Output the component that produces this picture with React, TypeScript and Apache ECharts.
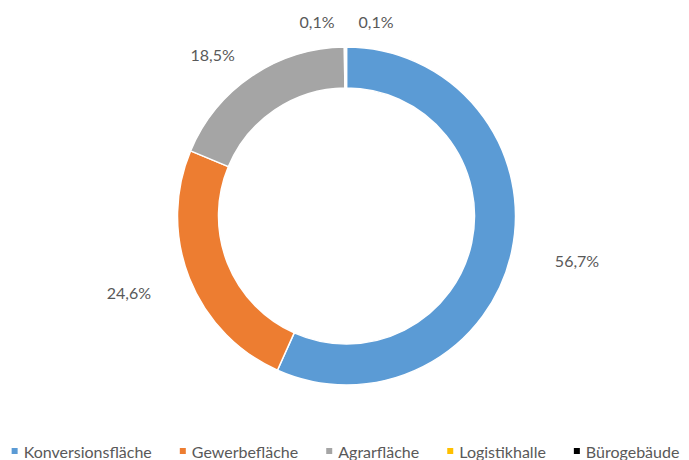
import React, { useEffect, useRef } from 'react';
import * as echarts from 'echarts';

const categories = ['Konversionsfläche', 'Gewerbefläche', 'Agrarfläche', 'Logistikhalle', 'Bürogebäude'];
const shares = [56.7, 24.6, 18.5, 0.1, 0.1];
const colors = ['#5B9BD5', '#ED7D31', '#A5A5A5', '#FFC000', '#000000'];

const FONT = 'Lato, "Noto Sans", sans-serif';
const TEXT = '#595959';
const CX = 346.5;
const CY = 216;
const R_OUT = 169;
const R_IN = 128;

export default function App() {
  const ref = useRef<HTMLDivElement>(null);
  useEffect(() => {
    document.body.style.margin = '0';
    if (!ref.current) return;
    const chart = echarts.init(ref.current, null, { renderer: 'svg' });
    const total = shares.reduce((a, b) => a + b, 0);
    const mids: number[] = [];
    let acc = 0;
    shares.forEach((v) => {
      mids.push(((acc + v / 2) / total) * Math.PI * 2);
      acc += v;
    });
    const smallIdx = shares.map((v, i) => (v < 1 ? i : -1)).filter((i) => i >= 0);
    const A = R_OUT * 1.40;
    const B = R_OUT * 1.16;

    chart.setOption({
      animation: false,
      backgroundColor: '#ffffff',
      color: colors,
      legend: {
        top: 438,
        left: 'center',
        padding: 5,
        icon: 'rect',
        itemWidth: 8,
        itemHeight: 8,
        itemGap: 26,
        textStyle: { color: TEXT, fontSize: 16, fontFamily: FONT },
        data: categories,
      },
      series: [
        {
          type: 'pie',
          center: [CX, CY],
          radius: [R_IN, R_OUT],
          startAngle: 90,
          clockwise: true,
          avoidLabelOverlap: false,
          itemStyle: { borderColor: '#ffffff', borderWidth: 1.5 },
          label: {
            show: true,
            position: 'outside',
            color: TEXT,
            fontSize: 16,
            fontFamily: FONT,
            formatter: (p: any) => `${Number(p.value).toFixed(1).replace('.', ',')}%`,
          },
          labelLine: { show: false },
          labelLayout: (p: any) => {
            const ang = mids[p.dataIndex];
            const sx = Math.sin(ang);
            const sy = -Math.cos(ang);
            // elevation from the horizontal, slightly flattened
            const elev = Math.atan2(sy, Math.abs(sx)) * 0.9;
            const ux = Math.sign(sx || 1) * Math.cos(elev);
            const uy = Math.sin(elev);
            const D = 1 / Math.sqrt((ux * ux) / (A * A) + (uy * uy) / (B * B));
            let x = CX + ux * D;
            const y = CY + uy * D;
            const k = smallIdx.indexOf(p.dataIndex);
            if (k >= 0) x = CX + (k - (smallIdx.length - 1) / 2) * (p.labelRect.width + 24);
            return { x, y, align: 'center', verticalAlign: 'middle' };
          },
          emphasis: { disabled: true },
          data: categories.map((name, i) => ({ name, value: shares[i] })),
        },
      ],
    });
    return () => chart.dispose();
  }, []);
  return <div ref={ref} style={{ width: 689, height: 460 }} />;
}
